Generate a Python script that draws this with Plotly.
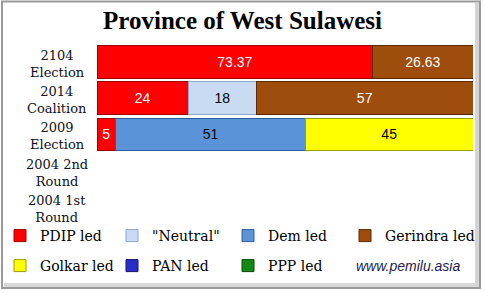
import plotly.graph_objects as go

categories = ["2104 Election", "2014 Coalition", "2009 Election", "2004 2nd Round", "2004 1st Round"]
cat_labels = ["2104<br>Election", "2014<br>Coalition", "2009<br>Election", "2004 2nd<br>Round", "2004 1st<br>Round"]

series_names = ["PDIP led", "\"Neutral\"", "Dem led", "Gerindra led", "Golkar led", "PAN led", "PPP led"]
pdip = [73.37, 24, 5, None, None]
neutral = [None, 18, None, None, None]
dem = [None, None, 51, None, None]
gerindra = [26.63, 57, None, None, None]
golkar = [None, None, 45, None, None]
pan = [None, None, None, None, None]
ppp = [None, None, None, None, None]
series_values = [pdip, neutral, dem, gerindra, golkar, pan, ppp]

colors = ["#FF0000", "#C9DBF2", "#5B93D8", "#9E4D0C", "#FFFF00", "#2B2BC8", "#138A13"]
edge_colors = ["#A00000", "#8FA8C8", "#2E5E9C", "#5A2A04", "#9E9E00", "#15156E", "#0A4D0A"]
text_colors = ["white", "black", "black", "white", "black", "white", "white"]

W, H = 485, 293
L, R, T, B = 97, 12, 42, 68
PW, PH = W - L - R, H - T - B

def px(x):
    return (x - L) / PW

def py(y):
    return (H - B - y) / PH

# legend entry positions (pixel left edge of each entry, row centre)
legend_pos = [(0, 236), (112, 236), (228, 236), (345, 236),
              (0, 266), (112, 266), (228, 266)]

fig = go.Figure()
for i, (name, vals, c, ec, tc) in enumerate(zip(series_names, series_values, colors, edge_colors, text_colors)):
    fig.add_trace(go.Bar(
        y=categories, x=vals, name=name, orientation="h",
        marker=dict(color=c, line=dict(color=ec, width=1)),
        text=["" if v is None else f"{v:g}" for v in vals],
        textposition="inside", insidetextanchor="middle",
        textfont=dict(family="Liberation Sans", size=14, color=tc),
        legend="legend" if i == 0 else f"legend{i + 1}", hoverinfo="skip",
    ))

annotations = []
for cat, lab in zip(categories, cat_labels):
    annotations.append(dict(
        x=px(57), xref="paper", y=cat, yref="y", text=lab, showarrow=False,
        xanchor="center", yanchor="middle", align="center", yshift=-2,
        font=dict(family="DejaVu Serif", size=13, color="#111122"),
    ))
annotations.append(dict(
    x=px(354), xref="paper", y=py(266), yref="paper", text="<i>www.pemilu.asia</i>",
    showarrow=False, xanchor="left", yanchor="middle",
    font=dict(family="Liberation Sans", size=14, color="#1C1C4C"),
))

shapes = [
    dict(type="rect", xref="paper", yref="paper", x0=px(2), x1=px(480), y0=py(288), y1=py(1.5),
         line=dict(color="#9A9A9A", width=2), fillcolor="rgba(0,0,0,0)", layer="above"),
    dict(type="rect", xref="paper", yref="paper", x0=px(475), x1=px(479), y0=py(287), y1=py(3),
         line=dict(width=0), fillcolor="#D4D4D4", layer="below"),
    dict(type="rect", xref="paper", yref="paper", x0=px(4), x1=px(479), y0=py(287), y1=py(283),
         line=dict(width=0), fillcolor="#D8D8D8", layer="below"),
]

legend_font = dict(family="DejaVu Serif", size=14, color="black")
legends = {}
for i, (lx, ly) in enumerate(legend_pos):
    key = "legend" if i == 0 else f"legend{i + 1}"
    legends[key] = dict(orientation="h", xref="paper", yref="paper", x=px(lx), y=py(ly),
                        xanchor="left", yanchor="middle",
                        font=legend_font, bgcolor="rgba(0,0,0,0)", itemclick=False)

fig.update_layout(
    width=W, height=H,
    margin=dict(l=L, r=R, t=T, b=B, autoexpand=False),
    paper_bgcolor="white", plot_bgcolor="white",
    barmode="stack", barnorm="percent", bargap=0.1,
    title=dict(text="<b>Province of West Sulawesi</b>", x=0.5, xref="container", xanchor="center",
               y=1 - 20 / H, yref="container", yanchor="middle",
               font=dict(family="Liberation Serif", size=25, color="black")),
    xaxis=dict(range=[0, 100], showticklabels=False, showgrid=False, zeroline=False, showline=False),
    yaxis=dict(categoryorder="array", categoryarray=categories, autorange="reversed",
               showticklabels=False, showgrid=False, zeroline=False, showline=False),
    annotations=annotations, shapes=shapes,
    showlegend=True,
    **legends,
)
fig.write_html("out.html")
